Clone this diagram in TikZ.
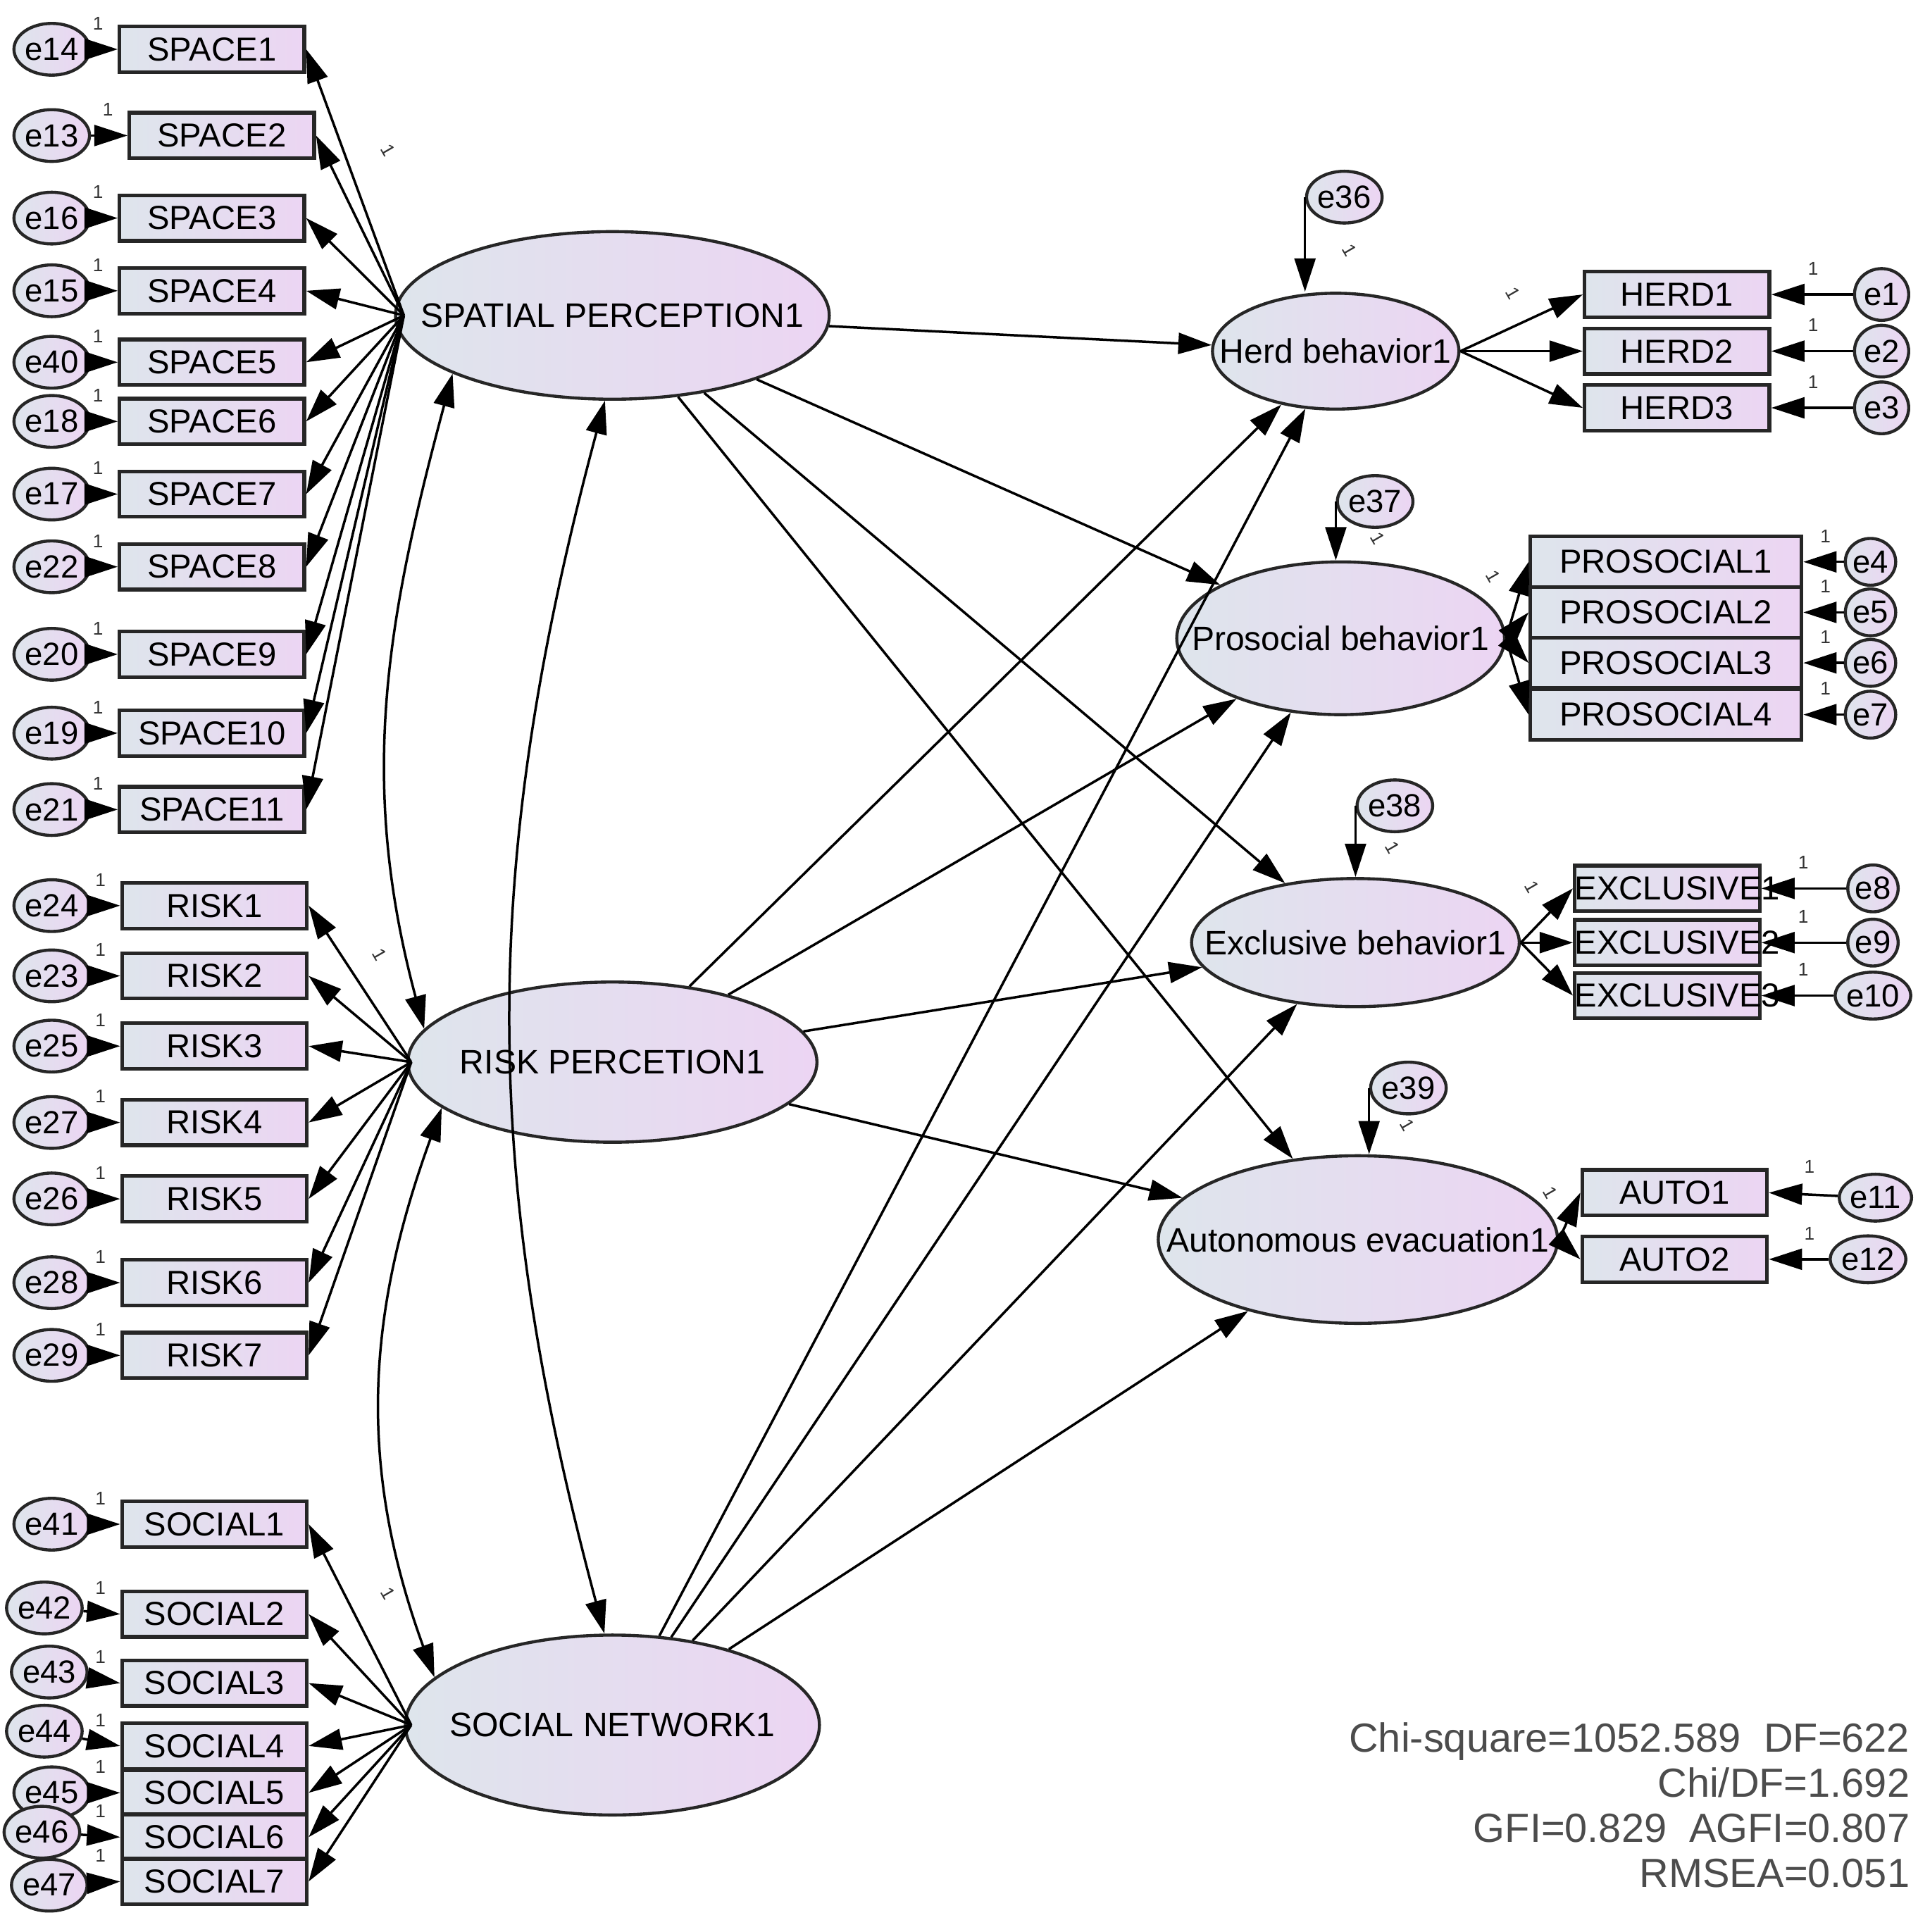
\documentclass[tikz,border=0pt]{standalone}
\usepackage{fontspec}
\setmainfont{Liberation Sans}
\usetikzlibrary{shapes.geometric,arrows.meta,calc}
\definecolor{fa}{RGB}{222,229,236}
\definecolor{fb}{RGB}{236,213,243}
\newcommand{\zw}[1]{\makebox[0pt]{#1}}
\begin{document}
\begin{tikzpicture}[x=1pt,y=-1pt,
  obs/.style={draw=black!85,line width=3pt,left color=fa,right color=fb,minimum width=150pt,minimum height=37pt,inner sep=0pt,font=\fontsize{27}{28}\selectfont},
  lat/.style={draw=black!85,line width=2.5pt,ellipse,left color=fa,right color=fb,inner sep=0pt,font=\fontsize{27.5}{28}\selectfont},
  err/.style={draw=black!85,line width=2.5pt,ellipse,left color=fa,right color=fb,minimum width=44pt,minimum height=42pt,inner sep=0pt,font=\fontsize{26}{26}\selectfont},
  one/.style={font=\fontsize{15}{16}\selectfont,text=black!80,inner sep=0pt},
  arr/.style={line width=2pt,-{Triangle[length=27pt,width=17pt]}},
  cov/.style={line width=2pt,{Triangle[length=27pt,width=17pt]}-{Triangle[length=27pt,width=17pt]}}]
\useasboundingbox (0,0) rectangle (1556,1568);
% latent
\node[lat,minimum width=352pt,minimum height=136pt] (sp) at (497,256) {\zw{SPATIAL PERCEPTION1}};
\node[lat,minimum width=332pt,minimum height=130pt] (rp) at (497,862) {\zw{RISK PERCETION1}};
\node[lat,minimum width=336pt,minimum height=146pt] (sn) at (497,1400) {\zw{SOCIAL NETWORK1}};
\node[lat,minimum width=200pt,minimum height=94pt] (hb) at (1084,285) {\zw{Herd behavior1}};
\node[lat,minimum width=266pt,minimum height=124pt] (pb) at (1088,518) {\zw{Prosocial behavior1}};
\node[lat,minimum width=266pt,minimum height=104pt] (eb) at (1100,765) {\zw{Exclusive behavior1}};
\node[lat,minimum width=324pt,minimum height=136pt] (ae) at (1102,1006) {\zw{Autonomous evacuation1}};
% SPACE
\foreach \i/\y/\e/\bx in {1/40/14/172,2/110/13/180,3/177/16/172,4/236/15/172,5/294/40/172,6/342/18/172,7/401/17/172,8/460/22/172,9/531/20/172,10/595/19/172,11/657/21/172}{
  \node[obs] (s\i) at (\bx,\y) {SPACE\i};
  \node[err] (es\i) at (42,\y) {e\e};
  \draw[arr] (es\i) -- (s\i.west);
  \node[one] at ([xshift=-16pt,yshift=21pt]s\i.west) {1};
  \draw[arr] ([xshift=8pt]sp.west) -- (s\i.east);
}
\node[one,rotate=-60] at (315,122) {1};
% RISK
\foreach \i/\y/\e in {1/735/24,2/792/23,3/849/25,4/911/27,5/973/26,6/1041/28,7/1100/29}{
  \node[obs] (r\i) at (174,\y) {RISK\i};
  \node[err] (er\i) at (42,\y) {e\e};
  \draw[arr] (er\i) -- (r\i.west);
  \node[one] at ([xshift=-16pt,yshift=21pt]r\i.west) {1};
  \draw[arr] ([xshift=4pt]rp.west) -- (r\i.east);
}
\node[one,rotate=-60] at (308,775) {1};
% SOCIAL
\foreach \i/\y/\e/\ex/\ey in {1/1237/41/42/1237,2/1310/42/36/1305,3/1366/43/40/1357,4/1417/44/36/1405,5/1455/45/42/1455,6/1491/46/34/1487,7/1527/47/40/1530}{
  \node[obs] (c\i) at (174,\y) {SOCIAL\i};
  \node[err] (ec\i) at (\ex,\ey) {e\e};
  \draw[arr] (ec\i) -- (c\i.west);
  \node[one] at ([xshift=-16pt,yshift=21pt]c\i.west) {1};
  \draw[arr] ([xshift=6pt]sn.west) -- (c\i.east);
}
\node[one,rotate=-60] at (315,1293) {1};
% structural
\foreach \a in {sp,rp,sn}{\foreach \b in {hb,pb,eb,ae}{\draw[arr] (\a) -- (\b);}}
% covariances
\draw[cov] (sp.-160) to[out=-105,in=105] (rp.170);
\draw[cov] (sp.-95) to[out=-105,in=105] (sn.95);
\draw[cov] (rp.-165) to[out=-110,in=110] (sn.165);
% disturbances
\node[err] (d36) at (1091,160) {e36};
\node[err] (d37) at (1116,407) {e37};
\node[err] (d38) at (1132,654) {e38};
\node[err] (d39) at (1143,883) {e39};
\draw[arr] (d36.west) -- (d36.west |- hb.north);
\draw[arr] (d37.west) -- (d37.west |- pb.north);
\draw[arr] (d38.west) -- (d38.west |- eb.north);
\draw[arr] (d39.west) -- (d39.west |- ae.north);
\node[one,rotate=-60] at (1095,203) {1};
\node[one,rotate=-60] at (1118,437) {1};
\node[one,rotate=-60] at (1130,688) {1};
\node[one,rotate=-60] at (1142,913) {1};
% HERD
\foreach \i/\y in {1/239,2/285,3/331}{
  \node[obs] (h\i) at (1361,\y) {HERD\i};
  \node[err] (eh\i) at (1527,\y) {e\i};
  \draw[arr] (eh\i) -- (h\i.east);
  \node[one] at ([xshift=34pt,yshift=21pt]h\i.east) {1};
  \draw[arr] (hb.east) -- (h\i.west);
}
\node[one,rotate=-60] at (1228,238) {1};
% PROSOCIAL
\foreach \i/\y/\e in {1/456/4,2/497/5,3/538/6,4/580/7}{
  \node[obs,minimum width=220pt,minimum height=41pt] (p\i) at (1352,\y) {PROSOCIAL\i};
  \node[err,minimum width=40pt,minimum height=38pt] (ep\i) at (1518,\y) {e\e};
  \draw[arr] (ep\i) -- (p\i.east);
  \node[one] at ([xshift=18pt,yshift=21pt]p\i.east) {1};
  \draw[arr] (pb.east) -- (p\i.west);
}
\node[one,rotate=-60] at (1212,468) {1};
% EXCLUSIVE
\foreach \i/\y/\e in {1/721/8,2/765/9,3/808/10}{
  \node[obs,text width=150pt,align=center] (x\i) at (1353,\y) {EXCLUSIVE\i};
  \node[err,minimum width=40pt,minimum height=38pt] (ex\i) at (1520,\y) {e\e};
  \draw[arr] (ex\i) -- (x\i.east);
  \node[one] at ([xshift=34pt,yshift=21pt]x\i.east) {1};
  \draw[arr] (eb.east) -- (x\i.west);
}
\node[one,rotate=-60] at (1243,720) {1};
% AUTO
\node[obs] (a1) at (1359,968) {AUTO1};
\node[obs] (a2) at (1359,1022) {AUTO2};
\node[err,minimum width=42pt,minimum height=38pt] (ea1) at (1522,972) {e11};
\node[err,minimum width=42pt,minimum height=38pt] (ea2) at (1516,1022) {e12};
\draw[arr] (ea1) -- (a1.east);
\draw[arr] (ea2) -- (a2.east);
\node[one] at ([xshift=33pt,yshift=21pt]a1.east) {1};
\node[one] at ([xshift=33pt,yshift=21pt]a2.east) {1};
\draw[arr] (ae.east) -- (a1.west);
\draw[arr] (ae.east) -- (a2.west);
\node[one,rotate=-60] at (1258,968) {1};
% stats
\node[anchor=north east,align=right,text=black!70,font=\fontsize{33}{36.5}\selectfont,inner sep=0pt] (st) at (1550,1398)
 {Chi-square=1052.589\ \ DF=622\\Chi/DF=1.692\\GFI=0.829\ \ AGFI=0.807\\RMSEA=0.051};
\end{tikzpicture}
\end{document}
